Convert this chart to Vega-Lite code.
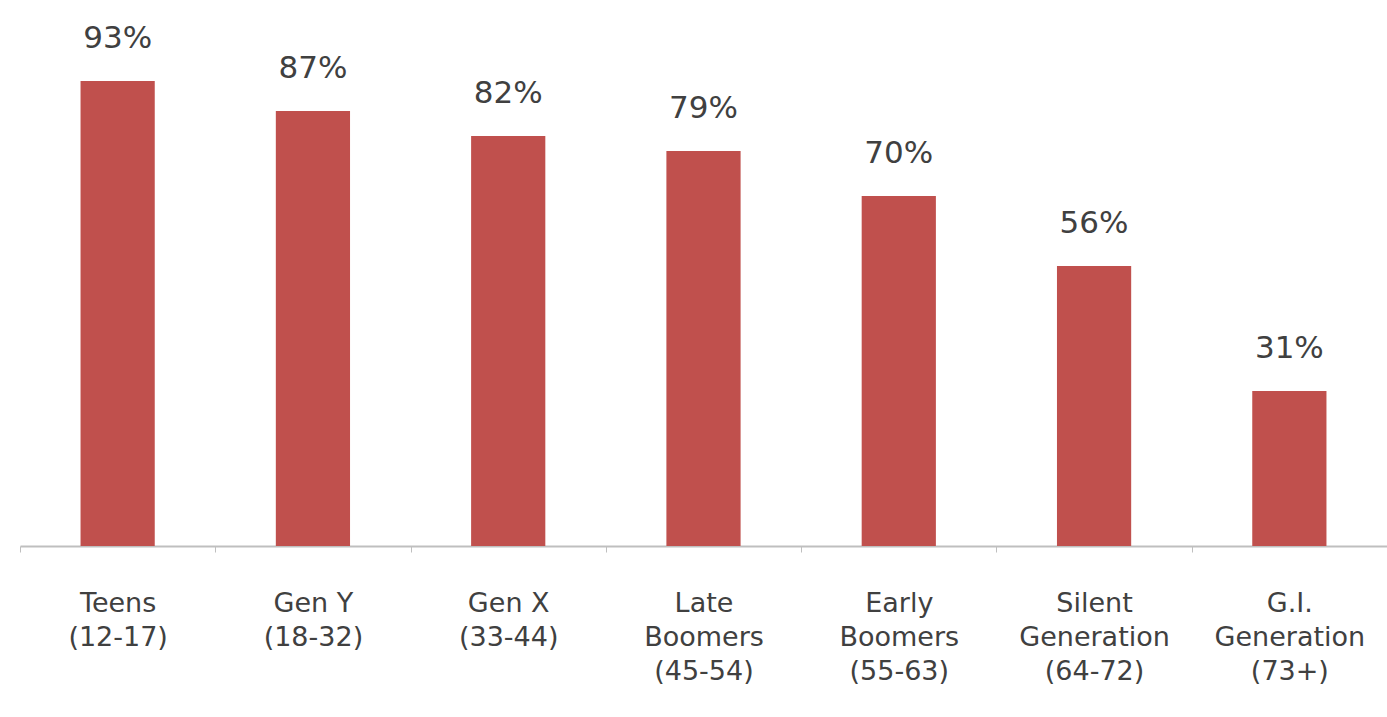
{
  "$schema": "https://vega.github.io/schema/vega-lite/v6.json",
  "width": 1367,
  "height": 500,
  "autosize": {"type": "none"},
  "padding": {"left": 20, "top": 46, "right": 0, "bottom": 171},
  "background": "white",
  "config": {"view": {"stroke": null}, "font": "DejaVu Sans"},
  "data": {
    "values": [
      {"gen": "Teens|(12-17)", "pct": 0.93},
      {"gen": "Gen Y|(18-32)", "pct": 0.87},
      {"gen": "Gen X|(33-44)", "pct": 0.82},
      {"gen": "Late|Boomers|(45-54)", "pct": 0.79},
      {"gen": "Early|Boomers|(55-63)", "pct": 0.70},
      {"gen": "Silent|Generation|(64-72)", "pct": 0.56},
      {"gen": "G.I.|Generation|(73+)", "pct": 0.31}
    ]
  },
  "encoding": {
    "x": {
      "field": "gen",
      "type": "nominal",
      "sort": null,
      "scale": {"paddingInner": 0, "paddingOuter": 0},
      "axis": {
        "title": null,
        "labelAngle": 0,
        "labelExpr": "split(datum.label, '|')",
        "labelFontSize": 27,
        "labelColor": "#404040",
        "labelLineHeight": 34,
        "labelPadding": 38,
        "labelBaseline": "top",
        "domainColor": "#bfbfbf",
        "domainWidth": 2,
        "tickColor": "#bfbfbf",
        "tickSize": 6,
        "tickBand": "extent",
        "labelLimit": 400,
        "labelOverlap": false,
        "labelBound": false
      }
    },
    "y": {
      "field": "pct",
      "type": "quantitative",
      "scale": {"domain": [0, 1]},
      "axis": null
    }
  },
  "layer": [
    {"mark": {"type": "bar", "color": "#C0504D", "width": {"band": 0.38}}},
    {
      "mark": {"type": "text", "dy": -42, "fontSize": 31, "color": "#404040", "baseline": "middle"},
      "encoding": {"text": {"field": "pct", "type": "quantitative", "format": ".0%"}}
    }
  ]
}
